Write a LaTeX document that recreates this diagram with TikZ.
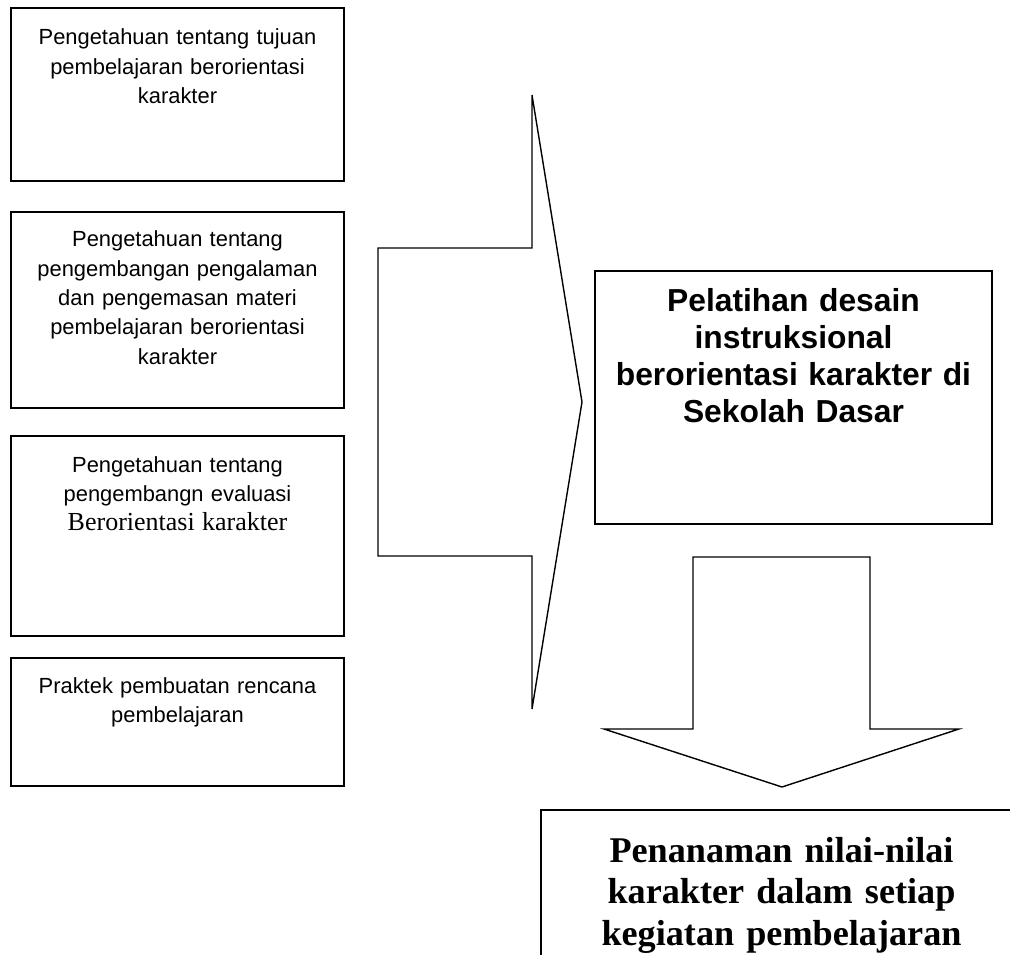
\documentclass[tikz,border=0pt]{standalone}
\usepackage{fontspec}
\setmainfont{Liberation Serif}
\setsansfont{Liberation Sans}
\usepackage{tikz}
\usetikzlibrary{positioning}

\tikzset{
	block/.style={draw, line width=1.5pt, inner sep=0pt, minimum width=333pt},
	block text/.style={anchor=base, inner sep=0pt, text width=325pt, align=center,
		font=\sffamily\fontsize{21.9pt}{29.3pt}\selectfont},
	big arrow/.style={draw, line width=1.4pt, line join=miter},
}

\begin{document}
\begin{tikzpicture}[x=1pt, y=-1pt]

		\useasboundingbox (0,0) rectangle (1010,955);
		\clip (0,0) rectangle (1010,955);

		% Knowledge blocks
		\node [block, minimum height=173pt] (know-1) at (177.5,94.5) {};
		\node [block text] (know-1-txt) at (177.5,45) {
			Pengetahuan tentang tujuan \\
			pembelajaran berorientasi \\
			karakter
		};

		\node [block, minimum height=196pt] (know-2) at (177.5,310) {};
		\node [block text] (know-2-txt) at (177.5,247) {
			Pengetahuan tentang \\
			pengembangan pengalaman \\
			dan pengemasan materi \\
			pembelajaran berorientasi \\
			karakter
		};

		\node [block, minimum height=200pt] (know-3) at (177.5,536) {};
		\node [block text] (know-3-txt) at (177.5,472) {
			Pengetahuan tentang \\
			pengembangn evaluasi \\
			{\rmfamily\fontsize{26pt}{29.3pt}\selectfont Berorientasi karakter}
		};

		\node [block, minimum height=128pt] (know-4) at (177.5,722) {};
		\node [block text] (know-4-txt) at (177.5,693) {
			Praktek pembuatan rencana \\
			pembelajaran
		};

		% Right arrow
		\draw [big arrow] (378,248) -- (532,248) -- (532,95) -- (582,402)
			-- (532,709) -- (532,556) -- (378,556) -- cycle;

		% Training
		\node [block, minimum width=397pt, minimum height=253pt] (train) at (793.5,397.5) {};
		\node [block text, text width=390pt,
			font=\sffamily\bfseries\fontsize{31.8pt}{37.3pt}\selectfont] (train-txt) at (793.5,311) {
			Pelatihan desain \\
			instruksional \\
			berorientasi karakter di \\
			Sekolah Dasar
		};

		% Down arrow
		\draw [big arrow] (693,557) -- (870,557) -- (870,729) -- (959,729)
			-- (782,787) -- (604,729) -- (693,729) -- cycle;

		% Result
		\node [block, minimum width=481pt, minimum height=190pt] (result) at (781.5,905) {};
		\node [block text, text width=470pt,
			font=\rmfamily\bfseries\fontsize{36.2pt}{41.5pt}\selectfont] (result-txt) at (781.5,862) {
			Penanaman nilai-nilai \\
			karakter dalam setiap \\
			kegiatan pembelajaran
		};

	\end{tikzpicture}
\end{document}
